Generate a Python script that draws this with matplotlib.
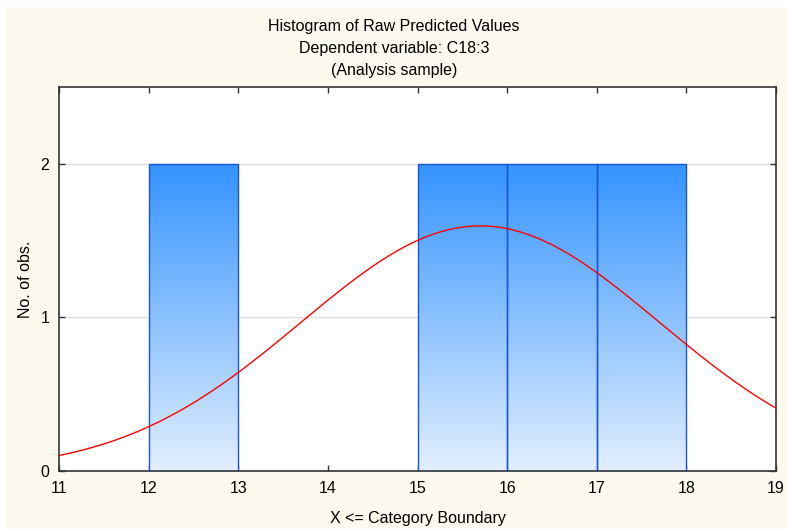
import numpy as np
import matplotlib
matplotlib.use('Agg')
from matplotlib import pyplot as plt
from matplotlib.patches import Rectangle
from matplotlib.colors import LinearSegmentedColormap

plt.rcParams['font.family'] = ['Liberation Sans', 'DejaVu Sans']

# histogram bins (upper boundary X <= ...) and counts
bin_left = [12, 15, 16, 17]
bin_right = [13, 16, 17, 18]
counts = [2, 2, 2, 2]

# fitted normal curve parameters
n_obs = 8
mean_val = 15.7
sd_val = 2.0
bin_width = 1.0

x_ticks = [11, 12, 13, 14, 15, 16, 17, 18, 19]
y_ticks = [0, 1, 2]

fig = plt.figure(figsize=(7.88, 5.29), dpi=100)
fig.patch.set_facecolor('white')
fig.patches.append(Rectangle((5 / 788, 0), 1 - 5 / 788, 1 - 7 / 529,
                             transform=fig.transFigure, facecolor='#fdf9ef',
                             edgecolor='none', zorder=-1))

ax = fig.add_axes([59 / 788, 58 / 529, 717 / 788, 384 / 529])
ax.set_facecolor('white')

cmap = LinearSegmentedColormap.from_list('bargrad', ['#e2efff', '#3393ff'])
grad = np.linspace(0, 1, 256).reshape(-1, 1)

for l, r, c in zip(bin_left, bin_right, counts):
    bars = ax.bar(l, c, width=r - l, align='edge', facecolor='none',
                  edgecolor='#1a55d6', linewidth=1.0, zorder=3)
    img = ax.imshow(grad, cmap=cmap, extent=(l, r, 0, c), origin='lower',
                    aspect='auto', zorder=2)
    img.set_clip_path(bars.patches[0])

xs = np.linspace(11, 19, 400)
ys = n_obs * bin_width / (sd_val * np.sqrt(2 * np.pi)) * np.exp(-(xs - mean_val) ** 2 / (2 * sd_val ** 2))
ax.plot(xs, ys, color='red', linewidth=1.0, zorder=4)

ax.set_xlim(11, 19)
ax.set_ylim(0, 2.5)
ax.set_xticks(x_ticks)
ax.set_yticks(y_ticks)
ax.grid(axis='y', color='#e0e0e0', linewidth=1.0, zorder=0)
ax.tick_params(direction='in', top=True, right=True, length=4, width=1,
               colors='#333333', labelcolor='black', labelsize=11.5, pad=7)
for s in ax.spines.values():
    s.set_color('#333333')
    s.set_linewidth(1.2)

ax.set_xlabel('X <= Category Boundary', fontsize=11.5, labelpad=11)
ax.set_ylabel('No. of obs.', fontsize=11.5, labelpad=5)

fig.text(0.5, 1 - 26 / 529, 'Histogram of Raw Predicted Values', ha='center', va='center', fontsize=11.5)
fig.text(0.5, 1 - 49 / 529, 'Dependent variable: C18:3', ha='center', va='center', fontsize=11.5)
fig.text(0.5, 1 - 71 / 529, '(Analysis sample)', ha='center', va='center', fontsize=11.5)

ax.set_axisbelow(True)
fig.savefig('out.png', dpi=100, facecolor=fig.get_facecolor())
